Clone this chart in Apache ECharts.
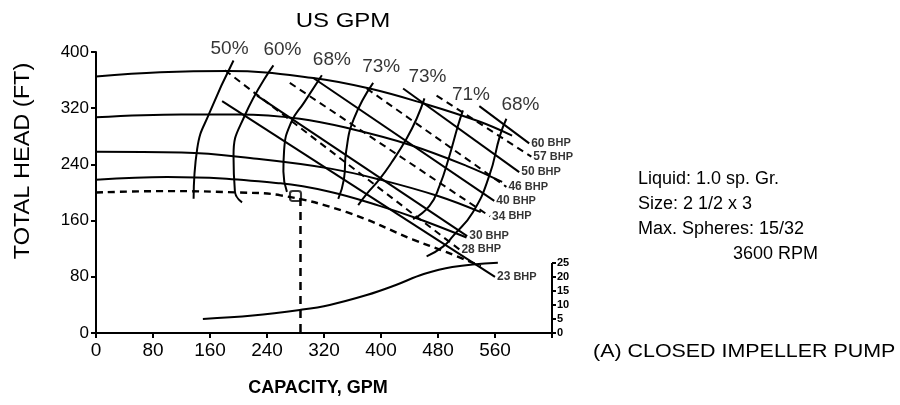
<!DOCTYPE html>
<html><head><meta charset="utf-8">
<script src="https://cdn.jsdelivr.net/npm/echarts@6/dist/echarts.min.js"></script>
<style>html,body{margin:0;background:#fff}#c{width:900px;height:405px}</style>
</head><body><div id="c"></div>
<script>
// ---- axes ----
const capacityMax = 640;
const headMax = 400;
const npshTicks = [0, 5, 10, 15, 20, 25];

// ---- head-capacity curves [gpm, ft] ----
const headCurve1 = [[0,365],[90,371],[185,373],[305,363],[384,348],[459,327],[538,301],[584,281]];
const headCurve2 = [[0,307],[120,311],[200,311],[286,305],[360,290],[440,268],[520,238],[570,215]];
const headCurve3 = [[0,258],[120,257],[226,248],[329,234],[400,218],[480,195],[540,172]];
const headCurve4 = [[0,218],[100,222],[259,213],[328,201],[398,181],[454,162],[520,136]];
const headCurveDashed = [[0,200],[100,202],[200,200],[259,196],[352,172],[445,133],[492,115],[540,95]];

// ---- efficiency curves [gpm, ft], first point = top ----
const effLabels = ['50%','60%','68%','73%','73%','71%','68%'];
const eff50 = [[193,388],[160,315],[142,262],[137,191]];
const eff60 = [[249,381],[209,310],[193,252],[195,201],[205,186]];
const eff68a = [[317,367],[292,328],[274,300],[264,260],[263,230],[268,201]];
const eff73a = [[389,356],[362,305],[351,258],[348,219],[340,191]];
const eff73b = [[461,334],[450,305],[436,277],[415,243],[398,219],[380,198],[368,182]];
const eff71 = [[515,317],[508,295],[496,252],[482,209],[468,181],[445,162]];
const eff68b = [[576,305],[567,281],[552,224],[529,172],[501,138],[487,123],[464,109]];

// ---- BHP lines [gpm, ft], last point = labelled end ----
const bhpLabels = ['60','57','50','46','40','34','30','28','23'];
const bhp60 = [[538,323],[608,270]];
const bhp57 = [[478,338],[611,251]];
const bhp50 = [[431,348],[594,229]];
const bhp46 = [[380,348],[576,208]];
const bhp40 = [[305,363],[559,188]];
const bhp34 = [[272,356],[553,166]];
const bhp30 = [[226,338],[521,138]];
const bhp28 = [[181,374],[510,119]];
const bhp23 = [[177,330],[560,80]];
const bhpDashed = [false,true,false,true,false,true,false,true,false];

// ---- NPSH required curve [gpm, ft NPSH] ----
const npshCurve = [[150,5],[220,6.2],[286,8.2],[328,10],[380,13.5],[420,17],[460,21],[500,23.5],[564,25]];

// ---- duty point ----
const dutyPoint = [[280,195]];
const dutyLine = [[287,192],[287,0]];

// ---- notes ----
const notes = ['Liquid: 1.0 sp. Gr.','Size: 2 1/2 x 3','Max. Spheres: 15/32'];
const speedNote = '3600 RPM';
const pumpNote = '(A) CLOSED IMPELLER PUMP';
const titleText = 'US GPM';
const xName = 'CAPACITY, GPM';
const yName = 'TOTAL HEAD (FT)';

const FONT = 'Liberation Sans, Arial, sans-serif';
const ink = '#000';

function line(data, opts) {
  return Object.assign({
    type: 'line', data: data, showSymbol: false, symbol: 'none', silent: true,
    lineStyle: { color: ink, width: 2 }, z: 3, animation: false
  }, opts || {});
}

const series = [];
[headCurve1, headCurve2, headCurve3, headCurve4].forEach(d => series.push(line(d, { smooth: 0.4 })));
series.push(line(headCurveDashed, { smooth: 0.4, lineStyle: { color: ink, width: 2.4, type: [7, 5] } }));

const effSets = [eff50, eff60, eff68a, eff73a, eff73b, eff71, eff68b];
effSets.forEach(d => series.push(line(d, { smooth: 0.5 })));
const effOffsets = [[-4,3],[9,-1],[10,-1],[8,-2],[3,-7],[8,-1],[14,1]];
series.push({
  type: 'scatter', silent: true, animation: false, symbolSize: 0, z: 5,
  data: effSets.map((d, i) => ({ value: d[0],
    label: { show: true, position: 'top', offset: effOffsets[i], formatter: effLabels[i],
      fontFamily: FONT, fontSize: 19, color: ink } }))
});

const bhpSets = [bhp60, bhp57, bhp50, bhp46, bhp40, bhp34, bhp30, bhp28, bhp23];
bhpSets.forEach((d, i) => series.push(line(d, {
  lineStyle: { color: ink, width: 2, type: bhpDashed[i] ? [7, 5] : 'solid' } })));
series.push({
  type: 'scatter', silent: true, animation: false, symbolSize: 0, z: 5,
  data: bhpSets.map((d, i) => ({ value: d[d.length - 1],
    label: { show: true, position: 'right', distance: 2,
      formatter: '{a|' + bhpLabels[i] + '}{b| BHP}',
      rich: { a: { fontFamily: FONT, fontSize: 12, fontWeight: 'bold', color: ink },
              b: { fontFamily: FONT, fontSize: 11, fontWeight: 'bold', color: ink } } } }))
});

series.push(line(npshCurve, { yAxisIndex: 1, smooth: 0.4 }));
series.push(line(dutyLine, { lineStyle: { color: ink, width: 2.5, type: [8, 6] } }));
series.push({ type: 'scatter', data: dutyPoint, symbol: 'roundRect', symbolSize: [11, 10],
  itemStyle: { color: 'rgba(0,0,0,0)', borderColor: ink, borderWidth: 2 }, silent: true, z: 6, animation: false });
// NPSH scale axis line
series.push(line([[0, npshTicks[0]], [0, npshTicks[npshTicks.length - 1]]], { xAxisIndex: 1, yAxisIndex: 2 }));

const option = {
  animation: false,
  backgroundColor: '#fff',
  grid: [
    { left: 96, right: 348, top: 52, bottom: 72 },
    { left: 552, width: 1, top: 263, bottom: 72 }
  ],
  xAxis: [
    { type: 'value', min: 0, max: capacityMax, interval: 80, gridIndex: 0,
      axisLine: { lineStyle: { color: ink, width: 2 } },
      axisTick: { length: 5, lineStyle: { color: ink, width: 2 } },
      axisLabel: { margin: 8, formatter: v => v === capacityMax ? '' : v,
        fontFamily: FONT, fontSize: 19, color: ink },
      splitLine: { show: false } },
    { type: 'value', gridIndex: 1, min: 0, max: 1, show: false }
  ],
  yAxis: [
    { type: 'value', min: 0, max: headMax, interval: 80, gridIndex: 0,
      axisLine: { lineStyle: { color: ink, width: 2 } },
      axisTick: { length: 5, lineStyle: { color: ink, width: 2 } },
      axisLabel: { margin: 7, fontFamily: FONT, fontSize: 17, color: ink },
      splitLine: { show: false } },
    { type: 'value', min: 0, max: 100, gridIndex: 0, show: false },
    { type: 'value', gridIndex: 1, min: npshTicks[0], max: npshTicks[npshTicks.length - 1], interval: 5,
      position: 'right',
      axisLine: { show: false },
      axisTick: { show: true, length: 4, lineStyle: { color: ink, width: 2 } },
      axisLabel: { margin: 4, fontFamily: FONT, fontSize: 11, fontWeight: 'bold', color: ink },
      splitLine: { show: false } }
  ],
  graphic: [
    { type: 'text', x: 343, y: 21, scaleX: 1.2,
      style: { text: titleText, font: '20px ' + FONT, fill: ink, textAlign: 'center', textVerticalAlign: 'middle' } },
    { type: 'text', x: 318, y: 388,
      style: { text: xName, font: 'bold 18px ' + FONT, fill: ink, textAlign: 'center', textVerticalAlign: 'middle' } },
    { type: 'text', x: 23, y: 161, rotation: Math.PI / 2, scaleX: 1.07,
      style: { text: yName, font: '22px ' + FONT, fill: ink, textAlign: 'center', textVerticalAlign: 'middle' } },
    ...notes.map((t, i) => ({ type: 'text', x: 638, y: 179 + i * 25,
      style: { text: t, font: '18px ' + FONT, fill: ink, textVerticalAlign: 'middle' } })),
    { type: 'text', x: 733, y: 254, style: { text: speedNote, font: '18px ' + FONT, fill: ink, textVerticalAlign: 'middle' } },
    { type: 'text', x: 593, y: 352, scaleX: 1.19,
      style: { text: pumpNote, font: '18px ' + FONT, fill: ink, textVerticalAlign: 'middle' } }
  ],
  series: series
};

const chart = echarts.init(document.getElementById('c'), null, { renderer: 'canvas' });
chart.setOption(option);
</script>
</body></html>
